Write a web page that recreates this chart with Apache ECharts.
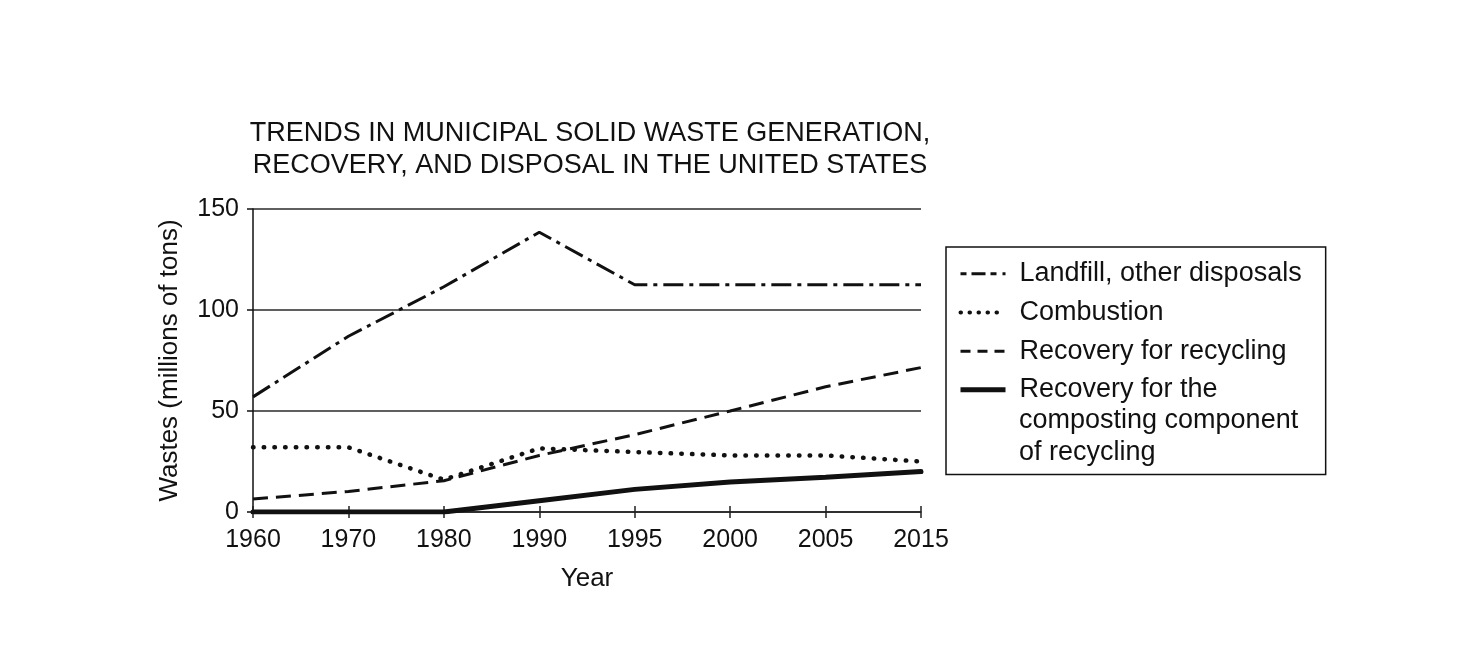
<!DOCTYPE html>
<html>
<head>
<meta charset="utf-8">
<title>Municipal solid waste trends</title>
<script src="https://cdn.jsdelivr.net/npm/echarts@6.0.0/dist/echarts.min.js"></script>
<style>
  html, body { margin: 0; padding: 0; background: #fff; }
  #chart { width: 1470px; height: 664px; }
</style>
</head>
<body>
<div id="chart"></div>
<script>
// values (millions of tons)
const years = ['1960', '1970', '1980', '1990', '1995', '2000', '2005', '2015']
const landfill = [57, 87, 111.5, 138.5, 112.5, 112.5, 112.5, 112.5]
const combustion = [32, 32, 16, 31.5, 29.7, 28, 28, 25]
const recycling = [6.4, 10.2, 15.5, 28, 38.3, 50, 62, 71.5]
const composting = [0, 0, 0, 5.6, 11.2, 14.8, 17.2, 20]
const yTicks = [0, 50, 100, 150]

const FONT = 'Liberation Sans, Arial, Helvetica, sans-serif'
const INK = '#111'

const names = [
  'Landfill, other disposals',
  'Combustion',
  'Recovery for recycling',
  'Recovery for the'
]

const myChart = echarts.init(document.getElementById('chart'))

const lineSeries = (name, data, lineStyle, z) => ({
  name,
  type: 'line',
  data,
  symbol: 'none',
  silent: true,
  z,
  lineStyle: Object.assign({ color: INK }, lineStyle),
  itemStyle: { color: INK }
})

const option = {
  animation: false,
  backgroundColor: '#fff',
  textStyle: { fontFamily: FONT, color: INK },
  title: [
    {
      text: 'TRENDS IN MUNICIPAL SOLID WASTE GENERATION,\nRECOVERY, AND DISPOSAL IN THE UNITED STATES',
      left: 590,
      top: 118,
      textAlign: 'center',
      padding: 0,
      textStyle: { fontFamily: FONT, fontSize: 27, fontWeight: 'normal', color: INK, lineHeight: 32 }
    },
    {
      // continuation of the last legend entry
      text: 'composting component\nof recycling',
      left: 1019,
      top: 405,
      padding: 0,
      textStyle: { fontFamily: FONT, fontSize: 27, fontWeight: 'normal', color: INK, lineHeight: 31.5 }
    }
  ],
  legend: {
    orient: 'vertical',
    left: 946,
    top: 247,
    padding: [11, 24, 69, 12],
    itemWidth: 45,
    itemHeight: 14,
    itemGap: 7.2,
    borderColor: '#111',
    borderWidth: 1.5,
    selectedMode: false,
    data: [
      { name: names[0], lineStyle: { width: 3, type: [6, 5, 14, 5, 6], cap: 'butt' } },
      { name: names[1], lineStyle: { width: 4, type: [0.5, 8.5], cap: 'round' } },
      { name: names[2], lineStyle: { width: 3, type: [10, 7, 10, 7], cap: 'butt' } },
      { name: names[3], lineStyle: { width: 5, type: 'solid', cap: 'butt' } }
    ],
    itemStyle: { opacity: 0 },
    textStyle: { fontFamily: FONT, fontSize: 27, color: INK, lineHeight: 31.5, padding: [0, 0, 0, 9] }
  },
  grid: { left: 253, right: 549, top: 209, bottom: 152, containLabel: false },
  xAxis: [
    {
      type: 'category',
      data: years,
      boundaryGap: false,
      name: 'Year',
      nameLocation: 'middle',
      nameGap: 54,
      nameTextStyle: { fontFamily: FONT, fontSize: 26, color: INK },
      axisLine: { lineStyle: { color: '#222', width: 1.5 } },
      axisTick: { alignWithLabel: true, length: 6, lineStyle: { color: '#222', width: 1.5 } },
      axisLabel: { fontFamily: FONT, fontSize: 25, color: INK, margin: 16 },
      splitLine: { show: false }
    },
    {
      // inner half of the crossing ticks
      type: 'category',
      data: years,
      boundaryGap: false,
      position: 'bottom',
      axisLine: { show: false },
      axisTick: { inside: true, length: 6, lineStyle: { color: '#222', width: 1.5 } },
      axisLabel: { show: false },
      splitLine: { show: false }
    }
  ],
  yAxis: {
    type: 'value',
    min: yTicks[0],
    max: yTicks[yTicks.length - 1],
    interval: 50,
    name: 'Wastes (millions of tons)',
    nameLocation: 'middle',
    nameGap: 70,
    nameTextStyle: { fontFamily: FONT, fontSize: 26, color: INK },
    axisLine: { show: true, lineStyle: { color: '#111', width: 1.5 } },
    axisTick: { show: true, length: 6, lineStyle: { color: '#111', width: 1.5 } },
    axisLabel: { fontFamily: FONT, fontSize: 25, color: INK, margin: 14 },
    splitLine: { lineStyle: { color: '#2a2a2a', width: 1.5 } }
  },
  series: [
    lineSeries(names[0], landfill, { width: 3, type: [20, 6, 4, 6], cap: 'butt' }, 3),
    lineSeries(names[1], combustion, { width: 4.5, type: [0.5, 10.2], cap: 'round' }, 4),
    lineSeries(names[2], recycling, { width: 3, type: [15, 8], cap: 'butt' }, 5),
    lineSeries(names[3], composting, { width: 5, type: 'solid', cap: 'round' }, 6)
  ]
}

myChart.setOption(option)
</script>
</body>
</html>
